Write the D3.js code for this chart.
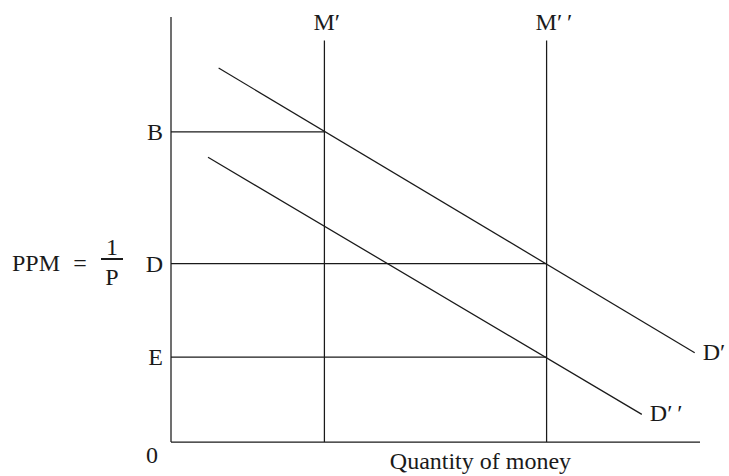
<!DOCTYPE html>
<meta charset="utf-8">
<style>
body{margin:0;background:#fff;}
text{
	font-family:"Liberation Serif",serif;
	font-size:24px;
	fill:#1a1a1a;
}
line{
	stroke:#1a1a1a;
	stroke-width:1.25px;
}
</style>
<body>
<script src="https://d3js.org/d3.v7.min.js"></script>
<script>

// money supply lines (quantity)
var supplyLabels=["M′","M′\u2009′"];
var supplyQty=[29,71];

// purchasing power levels
var levelLabels=["B","D","E"];
var levelPPM=[73,42,20];
var levelReach=[29,71,71]; // horizontal line runs to this quantity

// demand curves: start / end points
var demandLabels=["D′","D′\u2009′"];
var demandStart=[[9,88],[7,67]];
var demandEnd=[[99,21],[89,6.5]];

var svg=d3.select("body").append("svg").attr("width",729).attr("height",476);

var x=d3.scaleLinear().domain([0,100]).range([171,700]);
var y=d3.scaleLinear().domain([0,100]).range([442,17]);

// axes
svg.append("line").attr("x1",x(0)).attr("x2",x(0)).attr("y1",y(0)).attr("y2",y(100));
svg.append("line").attr("x1",x(0)).attr("x2",x(100)).attr("y1",y(0)).attr("y2",y(0));

svg.append("text").attr("x",x(0)-13).attr("y",y(0)+21).attr("text-anchor","end").text("0");
svg.append("text").attr("x",x(58.5)).attr("y",y(0)+27).attr("text-anchor","middle").text("Quantity of money");

// vertical money lines
supplyQty.forEach(function(q,i){
	svg.append("line").attr("x1",x(q)).attr("x2",x(q)).attr("y1",y(0)).attr("y2",y(94.5));
	svg.append("text").attr("x",x(q)-11).attr("y",30).text(supplyLabels[i]);
});

// horizontal level lines
levelPPM.forEach(function(p,i){
	svg.append("line").attr("x1",x(0)).attr("x2",x(levelReach[i])).attr("y1",y(p)).attr("y2",y(p));
	svg.append("text").attr("x",x(0)-8).attr("y",y(p)+8).attr("text-anchor","end").text(levelLabels[i]);
});

// demand curves
demandStart.forEach(function(s,i){
	var e=demandEnd[i];
	svg.append("line").attr("x1",x(s[0])).attr("y1",y(s[1])).attr("x2",x(e[0])).attr("y2",y(e[1]));
	svg.append("text").attr("x",x(e[0])+8).attr("y",y(e[1])+7).text(demandLabels[i]);
});

// y axis title: PPM = 1/P
var ty=y(levelPPM[1]);
svg.append("text").attr("x",12).attr("y",ty+7).text("PPM");
svg.append("text").attr("x",80).attr("y",ty+7).attr("text-anchor","middle").text("=");
svg.append("text").attr("x",112).attr("y",ty-9).attr("text-anchor","middle").text("1");
svg.append("line").attr("x1",101).attr("x2",123).attr("y1",ty-4.5).attr("y2",ty-4.5).style("stroke-width","2px");
svg.append("text").attr("x",112).attr("y",ty+21).attr("text-anchor","middle").text("P");

</script>
</body>
